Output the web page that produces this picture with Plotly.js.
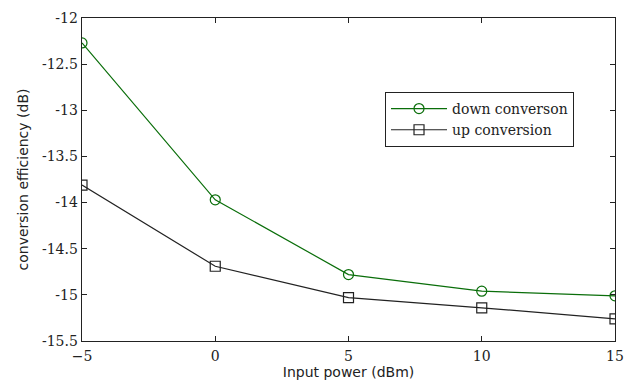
<!DOCTYPE html>
<html>
<head>
<meta charset="utf-8">
<script src="https://cdn.plot.ly/plotly-3.0.1.min.js"></script>
<style>
  html, body { margin: 0; padding: 0; background: #fff; }
  #chart { width: 631px; height: 380px; }
</style>
</head>
<body>
<div id="chart"></div>
<script>
// Input power sweep (dBm)
const inputPower = [-5, 0, 5, 10, 15];
// Conversion efficiency (dB) for each direction
const downConversion = [-12.27, -13.97, -14.78, -14.96, -15.01];
const upConversion = [-13.81, -14.69, -15.03, -15.14, -15.26];

const serif = 'DejaVu Serif, serif';
const sans = 'DejaVu Sans, sans-serif';

const traces = [
  {
    x: inputPower, y: downConversion, name: 'down converson',
    type: 'scatter', mode: 'lines+markers',
    line: { color: 'rgb(10,110,10)', width: 1.2 },
    marker: { symbol: 'circle-open', size: 10, color: 'rgb(10,110,10)', line: { width: 1.2 } }
  },
  {
    x: inputPower, y: upConversion, name: 'up conversion',
    type: 'scatter', mode: 'lines+markers',
    line: { color: '#222', width: 1.2 },
    marker: { symbol: 'square-open', size: 10, color: '#222', line: { width: 1.2 } }
  }
];

const axisCommon = {
  showline: true, linecolor: '#222', linewidth: 1.3, mirror: 'ticks',
  ticks: 'inside', ticklen: 5, tickwidth: 1, tickcolor: '#222',
  showgrid: false, zeroline: false,
  tickfont: { family: serif, size: 14, color: '#222' }
};

const layout = {
  width: 631, height: 380,
  margin: { l: 82, r: 16, t: 18, b: 39 },
  paper_bgcolor: '#fff', plot_bgcolor: '#fff',
  showlegend: true,
  legend: {
    x: 0.5685, y: 0.771, xanchor: 'left', yanchor: 'top',
    bgcolor: '#fff', bordercolor: '#222', borderwidth: 1,
    font: { family: serif, size: 14, color: '#222' },
    itemwidth: 56, tracegroupgap: 0
  },
  xaxis: Object.assign({}, axisCommon, {
    range: [-5, 15], tickvals: [-5, 0, 5, 10, 15], ticklabelstandoff: 2,
    title: { text: 'Input power (dBm)', font: { family: sans, size: 14, color: '#222' }, standoff: 2 }
  }),
  yaxis: Object.assign({}, axisCommon, {
    range: [-15.5, -12], tickvals: [-15.5, -15, -14.5, -14, -13.5, -13, -12.5, -12],
    ticktext: ['-15.5', '-15', '-14.5', '-14', '-13.5', '-13', '-12.5', '-12'],
    ticklabelstandoff: 0,
    title: { text: 'conversion efficiency (dB)', font: { family: sans, size: 14, color: '#222' }, standoff: 10 }
  })
};

Plotly.newPlot('chart', traces, layout, { displayModeBar: false, staticPlot: true });
</script>
</body>
</html>
